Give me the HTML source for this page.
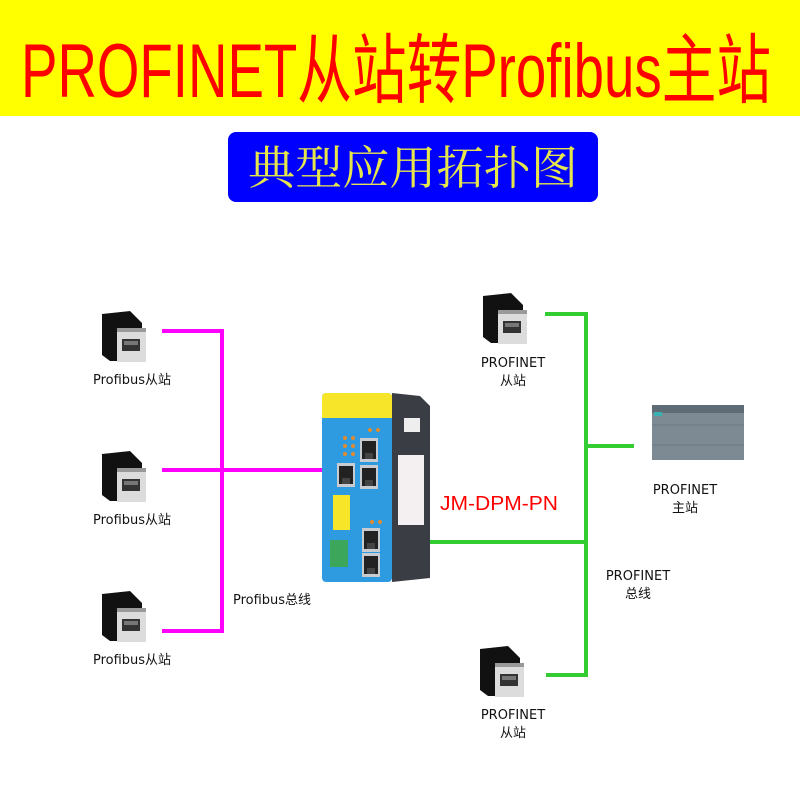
<!DOCTYPE html>
<html><head><meta charset="utf-8"><style>
body{margin:0;width:800px;height:800px;background:#fff;overflow:hidden}
svg{display:block}
</style></head><body>
<svg width="800" height="800" xmlns="http://www.w3.org/2000/svg">
<defs>
<g id="slave">
<polygon points="0,3 28,0 40,12 40,50 8,50 0,44" fill="#111"/>
<rect x="15" y="17" width="29" height="34" fill="#dcdcdc"/>
<rect x="15" y="17" width="29" height="4" fill="#999"/>
<rect x="20" y="28" width="18" height="12" fill="#333"/>
<rect x="22" y="30" width="14" height="4" fill="#777"/>
</g>
<g id="port">
<rect x="0" y="0" width="18" height="24" fill="#c8ccd0"/>
<rect x="2" y="3" width="14" height="18" fill="#222"/>
<rect x="5" y="15" width="8" height="6" fill="#444"/>
</g>
</defs>
<rect x="0" y="0" width="800" height="116" fill="#ffff00"/>
<text x="396" y="97" text-anchor="middle" font-family="'Liberation Sans','Noto Sans CJK SC',sans-serif" font-size="76" fill="#f00" textLength="750" lengthAdjust="spacingAndGlyphs">PROFINET从站转Profibus主站</text>
<rect x="228" y="132" width="370" height="70" rx="8" fill="#0000ff"/>
<text x="413" y="184" text-anchor="middle" font-family="'Noto Serif CJK SC','Noto Sans CJK SC',sans-serif" font-size="46" fill="#e6e64c" textLength="330" lengthAdjust="spacingAndGlyphs">典型应用拓扑图</text>

<g stroke="#ff00ff" stroke-width="4" fill="none">
<polyline points="162,331 222,331 222,631 162,631"/>
<line x1="162" y1="470" x2="330" y2="470"/>
</g>
<g stroke="#33cc33" stroke-width="4" fill="none">
<polyline points="545,314 586,314 586,675 546,675"/>
<line x1="586" y1="446" x2="634" y2="446"/>
<line x1="428" y1="542" x2="586" y2="542"/>
</g>

<use href="#slave" x="102" y="311"/>
<use href="#slave" x="102" y="451"/>
<use href="#slave" x="102" y="591"/>
<use href="#slave" x="483" y="293"/>
<use href="#slave" x="480" y="646"/>

<!-- device -->
<polygon points="392,393 420,396 430,406 430,578 392,582" fill="#3a3d44"/>
<rect x="398" y="455" width="26" height="70" fill="#f4f0f2"/>
<rect x="404" y="418" width="16" height="14" fill="#eee"/>
<rect x="322" y="393" width="70" height="189" rx="4" fill="#2e9be0"/>
<path d="M326,393 h62 a4,4 0 0 1 4,4 v21 h-70 v-21 a4,4 0 0 1 4,-4z" fill="#f7e52a"/>
<rect x="333" y="495" width="17" height="35" fill="#f7e52a"/>
<use href="#port" x="337" y="463"/>
<use href="#port" x="360" y="438"/>
<use href="#port" x="360" y="465"/>
<use href="#port" x="362" y="528"/>
<use href="#port" x="362" y="553"/>
<rect x="330" y="540" width="18" height="27" fill="#3ca65a"/>
<g fill="#e08a30"><circle cx="345" cy="438" r="2"/><circle cx="345" cy="446" r="2"/><circle cx="345" cy="454" r="2"/><circle cx="353" cy="438" r="2"/><circle cx="353" cy="446" r="2"/><circle cx="353" cy="454" r="2"/><circle cx="370" cy="430" r="2"/><circle cx="378" cy="430" r="2"/><circle cx="372" cy="522" r="2"/><circle cx="380" cy="522" r="2"/></g>

<!-- PLC -->
<rect x="652" y="408" width="92" height="52" fill="#7d8a94"/>
<rect x="652" y="405" width="92" height="8" fill="#5f6b75"/>
<rect x="654" y="412" width="8" height="4" fill="#3ab0b0"/>
<line x1="652" y1="425" x2="744" y2="425" stroke="#6a7680"/>
<line x1="652" y1="445" x2="744" y2="445" stroke="#6a7680"/>

<g font-family="'DejaVu Sans','Noto Sans CJK SC',sans-serif" font-size="13" fill="#111" text-anchor="middle">
<text x="132" y="384">Profibus从站</text>
<text x="132" y="524">Profibus从站</text>
<text x="132" y="664">Profibus从站</text>
<text x="513" y="367">PROFINET</text>
<text x="513" y="385">从站</text>
<text x="513" y="719">PROFINET</text>
<text x="513" y="737">从站</text>
<text x="685" y="494">PROFINET</text>
<text x="685" y="512">主站</text>
<text x="638" y="580">PROFINET</text>
<text x="638" y="598">总线</text>
<text x="272" y="604">Profibus总线</text>
</g>
<text x="440" y="510" font-family="'Liberation Sans',sans-serif" font-size="20" fill="#f00" textLength="118" lengthAdjust="spacingAndGlyphs">JM-DPM-PN</text>
</svg>
</body></html>
